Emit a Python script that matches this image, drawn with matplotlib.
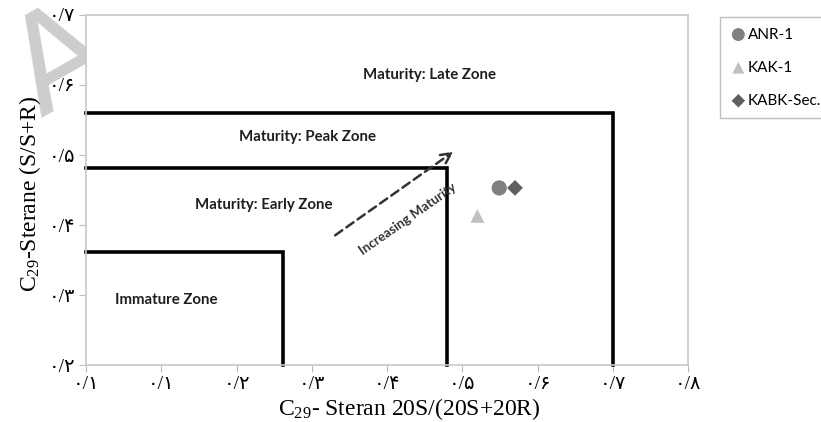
import matplotlib.pyplot as plt

plt.rcParams["mathtext.fontset"] = "custom"
plt.rcParams["mathtext.rm"] = "Liberation Serif"
plt.rcParams["mathtext.it"] = "Liberation Serif:italic"

# sample ratios
wells = ["ANR-1", "KAK-1", "KABK-Sec."]
steran_20s = [0.549, 0.520, 0.570]
sterane_ss = [0.453, 0.413, 0.453]
well_markers = ["o", "^", "D"]
well_colors = ["#808080", "#c0c0c0", "#5f5f5f"]
well_sizes = [120, 100, 65]

# zone boundaries (x limit, y limit)
zone_x = [0.262, 0.48, 0.70]
zone_y = [0.362, 0.481, 0.56]

zone_names = ["Immature Zone", "Maturity: Early Zone", "Maturity: Peak Zone", "Maturity: Late Zone"]
zone_label_x = [0.106, 0.236, 0.294, 0.457]
zone_label_y = [0.293, 0.429, 0.526, 0.614]

x_ticks = [0.0, 0.1, 0.2, 0.3, 0.4, 0.5, 0.6, 0.7, 0.8]
x_tick_labels = ["۰/۱", "۰/۱", "۰/۲", "۰/۳", "۰/۴", "۰/۵", "۰/۶", "۰/۷", "۰/۸"]
y_ticks = [0.2, 0.3, 0.4, 0.5, 0.6, 0.7]
y_tick_labels = ["۰/۲", "۰/۳", "۰/۴", "۰/۵", "۰/۶", "۰/۷"]

serif = ["Liberation Serif", "DejaVu Sans"]

fig = plt.figure(figsize=(8.21, 4.22), dpi=100)
ax = fig.add_axes([0.1048, 0.135, 0.7333, 0.8295])

# faint watermark letter behind the plot area
fig.text(0.098, 0.775, "A", fontsize=96, color="#cdcdcd", rotation=30,
         rotation_mode="anchor", ha="center", va="baseline",
         family="DejaVu Sans", zorder=-1)

for zx, zy in zip(zone_x, zone_y):
    ax.plot([0.0, zx, zx], [zy, zy, 0.2], color="black", lw=2.6,
            solid_joinstyle="miter", zorder=2, clip_on=False)

for name, lx, ly in zip(zone_names, zone_label_x, zone_label_y):
    ax.text(lx, ly, name, fontsize=10.8, fontweight="bold", family="Lato",
            ha="center", va="center", color="#1e1e1e")

ax.annotate("", xy=(0.491, 0.507), xytext=(0.328, 0.383),
            arrowprops=dict(arrowstyle="->", color="#333333", lw=1.8,
                            linestyle=(0, (3.5, 2)), mutation_scale=18))
ax.text(0.427, 0.409, "Increasing Maturity", fontsize=9.5, fontweight="bold",
        family="Lato", rotation=35, ha="center", va="center", color="#333333")

for name, x, y, m, c, s in zip(wells, steran_20s, sterane_ss, well_markers,
                               well_colors, well_sizes):
    ax.scatter(x, y, marker=m, color=c, s=s, label=name, zorder=3,
               edgecolors="none")

ax.set_xlim(0.0, 0.8)
ax.set_ylim(0.2, 0.7)
ax.set_xticks(x_ticks)
ax.set_xticklabels(x_tick_labels, family=serif, fontsize=14)
ax.set_yticks(y_ticks)
ax.set_yticklabels(y_tick_labels, family=serif, fontsize=14)
ax.tick_params(length=5, color="#bbbbbb", pad=3)
for spine in ax.spines.values():
    spine.set_color("#c8c8c8")
    spine.set_linewidth(1.2)

ax.set_xlabel("C$_{29}$- Steran 20S/(20S+20R)", family="Liberation Serif",
              fontsize=17)
ax.set_ylabel("C$_{29}$-Sterane (S/S+R)", family="Liberation Serif",
              fontsize=17)
ax.xaxis.set_label_coords(0.537, -0.09)
ax.yaxis.set_label_coords(-0.072, 0.49)

leg = fig.legend(loc="upper left", bbox_to_anchor=(0.877, 0.960),
                 borderaxespad=0, prop={"family": "Lato", "size": 11},
                 frameon=True, fancybox=False, handletextpad=0.1,
                 handlelength=1.0, labelspacing=1.25, borderpad=0.7,
                 markerscale=0.85)
leg.get_frame().set_edgecolor("#b0b0b0")

fig.savefig("out.png", dpi=100)
